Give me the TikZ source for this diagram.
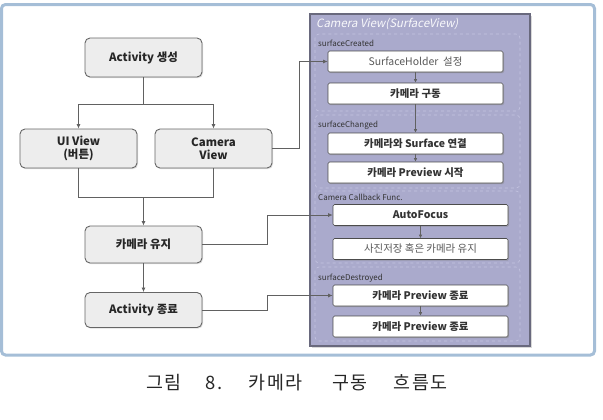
\documentclass[tikz,border=0pt]{standalone}
\usepackage{fontspec}
\setmainfont{Noto Sans CJK KR}
\newfontfamily\titlefont[FakeSlant=0.2]{Noto Sans CJK KR}
\newfontfamily\capfont[LetterSpace=8]{Noto Sans CJK KR}
\usetikzlibrary{arrows.meta,shadows}

\definecolor{frameblue}{RGB}{165,190,215}
\definecolor{lavender}{RGB}{170,170,204}
\definecolor{panelline}{RGB}{105,105,125}
\definecolor{groupline}{RGB}{198,198,226}

\begin{document}
\begin{tikzpicture}[x=1bp,y=-1bp,
  link/.style={draw=black!62,line width=0.8pt},
  flow/.style={link,-{Latex[length=4.5bp,width=4bp]}},
  shortflow/.style={link,line width=0.6pt,-{Latex[length=3.5bp,width=3.5bp]}},
  graybox/.style={draw=black!60,fill=black!7,rounded corners=5bp,line width=0.9pt,
    minimum width=117bp,align=center,text=black!85,
    font=\fontsize{11.5}{13.5}\selectfont\bfseries,
    drop shadow={shadow xshift=1bp,shadow yshift=-1.2bp,opacity=0.25}},
  whitebox/.style={draw=black!70,fill=white,rounded corners=1.5bp,line width=0.6pt,
    minimum width=175bp,minimum height=21bp,text=black!80,
    font=\fontsize{10.5}{12}\selectfont\bfseries,
    drop shadow={shadow xshift=1.2bp,shadow yshift=-1.2bp,opacity=0.45}},
  plainbox/.style={whitebox,font=\fontsize{10.5}{12}\selectfont,text=black!65},
  group/.style={draw=groupline,dashed,rounded corners=4bp,line width=0.6pt},
  grouplabel/.style={anchor=west,inner sep=0pt,text=black!80,
    font=\fontsize{8}{9}\selectfont}]

  \useasboundingbox (0,0) rectangle (603,419);

  % outer frame
  \draw[frameblue,line width=3bp,rounded corners=4bp] (1.5,4.5) rectangle (594.5,355);

  % left flow
  \node[graybox,minimum height=39bp] (create) at (143.5,57.5) {Activity 생성};
  \node[graybox,minimum height=39bp] (uiview) at (78.5,148.5) {UI View\\(버튼)};
  \node[graybox,minimum height=39bp] (camview) at (213.5,148.5) {Camera\\View};
  \node[graybox,minimum height=37bp] (keep) at (143.5,244.5) {카메라 유지};
  \node[graybox,minimum height=35bp] (finish) at (143.5,310) {Activity 종료};

  \coordinate (split) at (143.5,104);
  \coordinate (merge) at (143.5,197);
  \draw[link] (create) -- (split);
  \draw[flow] (split) -| (uiview);
  \draw[flow] (split) -| (camview);
  \draw[link] (uiview) |- (merge);
  \draw[link] (camview) |- (merge);
  \draw[flow] (merge) -- (keep);
  \draw[flow] (keep) -- (finish);

  % camera view panel
  \fill[lavender,draw=panelline,line width=1.2pt,
    drop shadow={shadow xshift=1.5bp,shadow yshift=-1.5bp,opacity=0.3}]
    (310,14) rectangle (530,346);
  \node[anchor=west,inner sep=0pt,text=white!92!lavender,
    font=\titlefont\fontsize{11.5}{13}\selectfont] (paneltitle) at (316,24) {Camera View(SurfaceView)};

  \draw[group] (315,34) rectangle (520,111);
  \draw[group] (315,115) rectangle (520,188);
  \draw[group] (315,191) rectangle (520,263);
  \draw[group] (315,267) rectangle (520,341);
  \node[grouplabel] (lcreated) at (318,43) {surfaceCreated};
  \node[grouplabel] (lchanged) at (318,125) {surfaceChanged};
  \node[grouplabel] (lcallback) at (318,197.5) {Camera Callback Func.};
  \node[grouplabel] (ldestroyed) at (318,278.5) {surfaceDestroyed};

  \node[plainbox] (holder) at (415.5,61.5) {SurfaceHolder\ \ 설정};
  \node[whitebox] (drive) at (415.5,93.5) {카메라 구동};
  \node[whitebox] (connect) at (415.5,143.5) {카메라와 Surface 연결};
  \node[whitebox] (preview) at (415.5,172.5) {카메라 Preview 시작};
  \node[whitebox] (focus) at (420.5,215) {AutoFocus};
  \node[plainbox] (save) at (420.5,249) {사진저장 혹은 카메라 유지};
  \node[whitebox] (stopa) at (420.5,295.5) {카메라 Preview 종료};
  \node[whitebox] (stopb) at (420.5,326.5) {카메라 Preview 종료};

  \draw[shortflow] (holder) -- (drive);
  \draw[shortflow] (drive) -- (connect);
  \draw[shortflow] (connect) -- (preview);
  \draw[shortflow] (focus) -- (save);
  \draw[shortflow] (stopa) -- (stopb);

  % calls into the surface view
  \draw[flow] (camview.east) -- ++(27,0) |- (holder.west);
  \draw[flow] (keep.east) -- ++(65,0) |- (focus.west);
  \draw[flow] (finish.east) -- ++(65,0) |- (stopa.west);

  \node[text=black!85,font=\capfont\fontsize{18.5}{22}\selectfont] (caption) at (297,383)
    {그림\hspace{24bp}8.\hspace{26bp}카메라\hspace{30bp}구동\hspace{26bp}흐름도};
\end{tikzpicture}
\end{document}
